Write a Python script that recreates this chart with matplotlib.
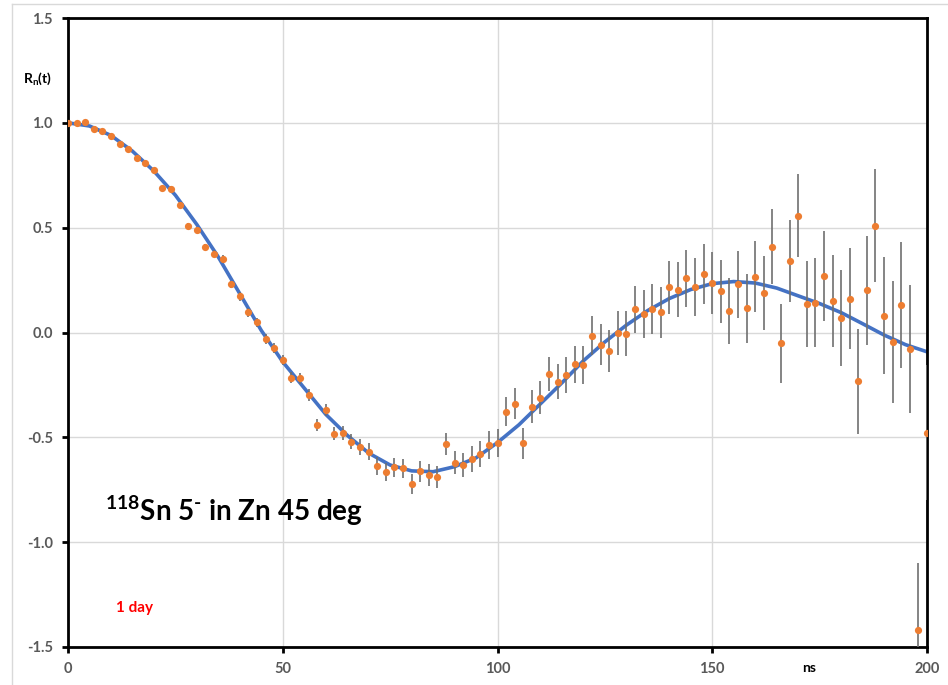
import numpy as np
import matplotlib
matplotlib.use("Agg")
from matplotlib import pyplot as plt
from matplotlib.lines import Line2D

plt.rcParams['font.family'] = ['Lato', 'DejaVu Sans']
plt.rcParams['mathtext.fontset'] = 'custom'
plt.rcParams['mathtext.rm'] = 'Lato:bold'
plt.rcParams['mathtext.default'] = 'rm'

# measured ratio R_n(t), one point every 2 ns
t_ns = np.arange(0, 202, 2)
r_meas = [1.000, 0.998, 1.005, 0.970, 0.963, 0.937, 0.900, 0.877, 0.830, 0.810,
          0.775, 0.689, 0.685, 0.610, 0.510, 0.488, 0.408, 0.375, 0.350, 0.229,
          0.172, 0.097, 0.049, -0.030, -0.076, -0.132, -0.216, -0.218, -0.299, -0.443,
          -0.370, -0.483, -0.478, -0.521, -0.547, -0.569, -0.637, -0.666, -0.642, -0.647,
          -0.723, -0.661, -0.680, -0.688, -0.531, -0.621, -0.633, -0.602, -0.580, -0.537,
          -0.526, -0.377, -0.339, -0.529, -0.353, -0.311, -0.197, -0.235, -0.203, -0.151,
          -0.156, -0.016, -0.058, -0.089, -0.003, -0.005, 0.110, 0.088, 0.113, 0.097,
          0.215, 0.205, 0.258, 0.218, 0.277, 0.237, 0.196, 0.102, 0.229, 0.116,
          0.267, 0.189, 0.410, -0.052, 0.341, 0.558, 0.137, 0.143, 0.270, 0.151,
          0.068, 0.161, -0.232, 0.202, 0.509, 0.081, -0.046, 0.130, -0.078, -1.418,
          -0.477]
r_err = [0.005, 0.005, 0.006, 0.006, 0.007, 0.007, 0.008, 0.008, 0.009, 0.009,
         0.010, 0.011, 0.012, 0.013, 0.014, 0.015, 0.016, 0.017, 0.018, 0.019,
         0.020, 0.021, 0.022, 0.023, 0.024, 0.025, 0.026, 0.027, 0.028, 0.029,
         0.030, 0.032, 0.034, 0.036, 0.038, 0.040, 0.042, 0.043, 0.045, 0.046,
         0.048, 0.050, 0.051, 0.053, 0.054, 0.056, 0.058, 0.061, 0.063, 0.066,
         0.068, 0.070, 0.072, 0.075, 0.077, 0.080, 0.082, 0.084, 0.086, 0.088,
         0.090, 0.093, 0.097, 0.100, 0.104, 0.107, 0.110, 0.114, 0.118, 0.122,
         0.127, 0.131, 0.135, 0.139, 0.143, 0.148, 0.152, 0.157, 0.161, 0.165,
         0.170, 0.175, 0.180, 0.190, 0.195, 0.200, 0.205, 0.210, 0.215, 0.220,
         0.230, 0.240, 0.250, 0.260, 0.270, 0.280, 0.290, 0.300, 0.305, 0.320,
         0.320]

# fitted perturbation curve
t_fit = [0, 5, 10, 15, 20, 25, 30, 35, 40, 45, 50, 55, 60, 65, 70, 75, 80, 85, 90, 95,
         100, 105, 110, 115, 120, 125, 130, 135, 140, 145, 150, 155, 160, 165, 170, 175,
         180, 185, 190, 195, 200]
r_fit = [1.000, 0.985, 0.940, 0.865, 0.770, 0.655, 0.515, 0.360, 0.185, 0.010,
         -0.140, -0.265, -0.390, -0.490, -0.575, -0.632, -0.660, -0.664, -0.640, -0.598,
         -0.525, -0.440, -0.340, -0.240, -0.135, -0.045, 0.035, 0.105, 0.162, 0.205,
         0.233, 0.243, 0.236, 0.212, 0.175, 0.138, 0.095, 0.042, -0.012, -0.058,
         -0.092]

fig = plt.figure(figsize=(9.48, 6.85), dpi=100)
ax = fig.add_axes([68/948, 1-647/685, 859/948, 629/685])

ax.plot(t_fit, r_fit, color='#4472C4', lw=2.6, zorder=2, solid_capstyle='round')
ax.errorbar(t_ns, r_meas, yerr=r_err, fmt='none', ecolor='#6f6f6f', elinewidth=1.2,
            capsize=0, zorder=3)
ax.plot(t_ns, r_meas, 'o', color='#ED7D31', ms=5.2, mec='none', zorder=4)

ax.set_xlim(0, 200)
ax.set_ylim(-1.5, 1.5)
ax.set_xticks([0, 50, 100, 150, 200])
ax.set_yticks([-1.5, -1.0, -0.5, 0.0, 0.5, 1.0, 1.5])
ax.set_yticklabels(['-1.5', '-1.0', '-0.5', '0.0', '0.5', '1.0', '1.5'])
ax.grid(True, color='#d9d9d9', lw=1.0, zorder=0)
ax.set_axisbelow(True)
for s in ax.spines.values():
    s.set_linewidth(2.0)
    s.set_color('black')
ax.tick_params(axis='both', direction='out', length=4, width=2, color='black',
               labelsize=10.5, labelcolor='#595959', pad=7)
for lab in ax.get_xticklabels() + ax.get_yticklabels():
    lab.set_fontweight('bold')

ax.text(-7.2, 1.21, r'R$_\mathregular{n}$(t)', fontsize=10, fontweight='bold',
        ha='center', va='center', clip_on=False)
ax.text(172.5, -1.598, 'ns', fontsize=10, fontweight='bold', ha='center', va='center',
        clip_on=False)
ax.text(8.6, -0.90, r'$^{118}$Sn 5$^{\text{-}}$ in Zn 45 deg', fontsize=20,
        fontweight='bold', ha='left', va='baseline')
ax.text(11.1, -1.335, '1 day', fontsize=11, fontweight='bold', color='red',
        ha='left', va='baseline')

# thin frame around the chart area
fig.add_artist(Line2D([12/948, 12/948], [0, 1-4/685], color='#d9d9d9', lw=1))
fig.add_artist(Line2D([12/948, 1], [1-4/685, 1-4/685], color='#d9d9d9', lw=1))

fig.savefig('out.png', dpi=100)
